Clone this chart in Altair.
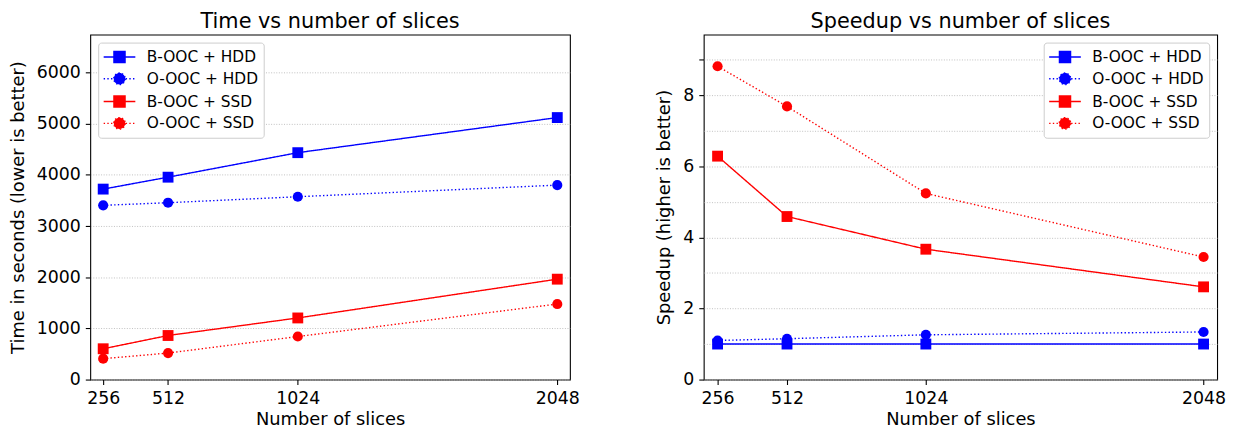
import altair as alt
import pandas as pd

slices = [256, 512, 1024, 2048]
series_names = ["B-OOC + HDD", "O-OOC + HDD", "B-OOC + SSD", "O-OOC + SSD"]
series_kind = ["B", "O", "B", "O"]
series_colors = ["#0000ff", "#0000ff", "#ff0000", "#ff0000"]

time_b_hdd = [3722, 3955, 4434, 5120]
time_o_hdd = [3405, 3456, 3573, 3800]
time_b_ssd = [602, 861, 1204, 1962]
time_o_ssd = [408, 518, 841, 1476]

speed_b_hdd = [1.0, 1.0, 1.0, 1.0]
speed_o_hdd = [1.10, 1.15, 1.26, 1.34]
speed_b_ssd = [6.29, 4.59, 3.67, 2.61]
speed_o_ssd = [8.82, 7.69, 5.24, 3.45]

time_ticks = [0, 1000, 2000, 3000, 4000, 5000, 6000]
speed_grid = [0, 1, 2, 3, 4, 5, 6, 7, 8, 9]

FONT = "DejaVu Sans"


def long_table(series_values):
    rows = []
    for name, kind, vals in zip(series_names, series_kind, series_values):
        for s, v in zip(slices, vals):
            rows.append({"slices": s, "value": v, "series": name, "kind": kind})
    return pd.DataFrame(rows)


time_df = long_table([time_b_hdd, time_o_hdd, time_b_ssd, time_o_ssd])
speed_df = long_table([speed_b_hdd, speed_o_hdd, speed_b_ssd, speed_o_ssd])

solid = [1, 0]
dotted = [1.4, 2.3]
dash_range = [solid, dotted, solid, dotted]

# legend glyphs: a short line with the marker in its middle (unit = 8.5 px)
line_part = "M-1.88,0L1.88,0"
sq = "M-0.66,-0.66L0.66,-0.66L0.66,0.66L-0.66,0.66Z"
circ = "M0.68,0A0.68,0.68,0,1,1,-0.68,0A0.68,0.68,0,1,1,0.68,0Z"
shape_range = [line_part + sq, line_part + circ, line_part + sq, line_part + circ]


def panel(df, title, ytitle, ydomain, yaxis, legend_orient, width, height):
    x = alt.X(
        "slices:Q",
        scale=alt.Scale(domain=[205, 2098], nice=False, zero=False),
        axis=alt.Axis(values=slices, format="d", title="Number of slices", grid=False,
                      labelFlush=False, labelOverlap=False, titlePadding=4),
    )
    y = alt.Y("value:Q", scale=alt.Scale(domain=ydomain, nice=False, zero=True),
              axis=yaxis, title=ytitle)
    color_nolegend = alt.Color("series:N", scale=alt.Scale(domain=series_names, range=series_colors), legend=None)
    dash_nolegend = alt.StrokeDash("series:N", scale=alt.Scale(domain=series_names, range=dash_range), legend=None)

    leg = alt.Legend(
        title=None, orient=legend_orient, offset=8, padding=5,
        cornerRadius=3, strokeColor="#cccccc", fillColor="white",
        labelFont=FONT, labelFontSize=15.5, labelColor="black",
        symbolSize=289, symbolStrokeWidth=1.4, symbolOpacity=1,
        symbolOffset=7, labelOffset=18, rowPadding=4,
    )
    legend_layer = alt.Chart(df).transform_filter("false").mark_point(
        filled=True, strokeWidth=1.4
    ).encode(
        x=x, y=y,
        color=alt.Color("series:N", scale=alt.Scale(domain=series_names, range=series_colors), legend=leg),
        stroke=alt.Stroke("series:N", scale=alt.Scale(domain=series_names, range=series_colors), legend=leg),
        shape=alt.Shape("series:N", scale=alt.Scale(domain=series_names, range=shape_range), legend=leg),
        strokeDash=alt.StrokeDash("series:N", scale=alt.Scale(domain=series_names, range=dash_range), legend=leg),
    )
    lines = alt.Chart(df).mark_line(strokeWidth=1.4).encode(
        x=x, y=y, color=color_nolegend, strokeDash=dash_nolegend
    )
    squares = alt.Chart(df).transform_filter(alt.datum.kind == "B").mark_point(
        shape="square", filled=True, size=120, opacity=1
    ).encode(x=x, y=y, color=color_nolegend)
    circles = alt.Chart(df).transform_filter(alt.datum.kind == "O").mark_point(
        shape="circle", filled=True, size=105, opacity=1
    ).encode(x=x, y=y, color=color_nolegend)

    return alt.layer(legend_layer, lines, squares, circles).properties(
        width=width, height=height,
        title=alt.Title(title, fontSize=21, fontWeight="normal", font=FONT, color="black", offset=3),
    )


left_axis = alt.Axis(values=time_ticks, format="d", grid=True, titlePadding=9)
right_axis = alt.Axis(
    values=speed_grid, grid=True, titlePadding=9,
    labelExpr="datum.value % 2 == 0 ? datum.label : ''",
    tickOpacity={"condition": {"test": "datum.value == 1 || datum.value == 3 || datum.value == 5 || datum.value == 7", "value": 0}, "value": 1},
)

left = panel(time_df, "Time vs number of slices", "Time in seconds (lower is better)",
             [0, 6740], left_axis, "top-left", 484, 348)
right = panel(speed_df, "Speedup vs number of slices", "Speedup (higher is better)",
              [0, 9.71], right_axis, "top-right", 518, 348)

chart = alt.hconcat(left, right, spacing=75).properties(
    padding={"left": 0, "top": 0, "right": 5, "bottom": 0},
    background="white",
).configure_view(
    stroke="black", strokeWidth=1.1
).configure_axis(
    domain=False,
    labelFont=FONT, labelFontSize=17.5, labelColor="black", labelPadding=5,
    titleFont=FONT, titleFontSize=18, titleFontWeight="normal", titleColor="black",
    tickColor="black", tickSize=5, tickWidth=1.1,
    gridColor="#b0b0b0", gridDash=[1, 1.6], gridWidth=0.8,
)

chart.save("out.html", embed_options={"renderer": "svg", "actions": False})
